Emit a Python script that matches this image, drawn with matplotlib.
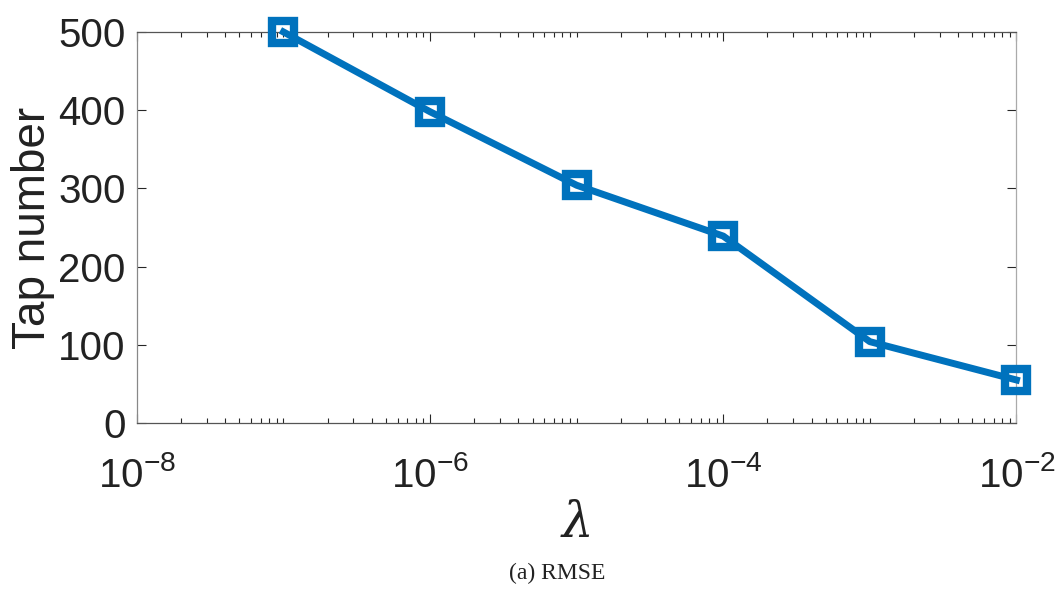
import matplotlib
matplotlib.use("Agg")
import matplotlib.pyplot as plt
import numpy as np
from matplotlib.ticker import LogLocator, NullFormatter, FixedLocator

plt.rcParams['font.family'] = ['Liberation Sans', 'DejaVu Sans']
plt.rcParams['mathtext.fontset'] = 'custom'
plt.rcParams['mathtext.rm'] = 'Liberation Sans'
plt.rcParams['mathtext.it'] = 'Liberation Sans:italic'

lambdas = [1e-7, 1e-6, 1e-5, 1e-4, 1e-3, 1e-2]
tap_number = [500, 398, 304, 239, 104, 55]
xtick_vals = [1e-8, 1e-6, 1e-4, 1e-2]
ytick_vals = [0, 100, 200, 300, 400, 500]

fig = plt.figure(figsize=(10.61, 5.92), dpi=100)
ax = fig.add_axes([0.129, 0.2855, 0.829, 0.6605])
ax.plot(lambdas, tap_number, color='#0072BD', lw=5, marker='s', ms=16.5,
        mfc='none', mec='#0072BD', mew=6, clip_on=False, zorder=5)
ax.set_xscale('log')
ax.set_xlim(1e-8, 1e-2)
ax.set_ylim(0, 500)
ax.xaxis.set_major_locator(FixedLocator(xtick_vals))
ax.xaxis.set_minor_locator(LogLocator(base=10, subs=np.arange(1, 10), numticks=50))
ax.xaxis.set_minor_formatter(NullFormatter())
ax.set_xticks(xtick_vals)
ax.set_xticklabels([r'$10^{%d}$' % int(np.log10(v)) for v in xtick_vals])
ax.set_yticks(ytick_vals)
for s in ax.spines.values():
    s.set_color('#555555')
    s.set_linewidth(0.9)
ax.spines['left'].set_color('#888888')
ax.spines['right'].set_color('#aaaaaa')
ax.tick_params(which='both', direction='in', top=True, right=True, colors='#262626',
               labelsize=29, width=0.8, labelcolor='#222222')
ax.tick_params(which='major', length=6.5)
ax.tick_params(which='minor', length=3.5)
ax.tick_params(axis='y', which='major', pad=8)
ax.tick_params(axis='x', which='major', pad=24)
ax.set_ylabel('Tap number', fontsize=33, color='#222222', labelpad=2)
fig.text(0.5423, 0.093, r'$\lambda$', ha='center', va='baseline', fontsize=36,
         color='#222222', math_fontfamily='dejavuserif')
fig.text(0.525, 0.031, '(a) RMSE', ha='center', va='center', fontsize=17,
         fontfamily='Liberation Serif', color='#222222')
fig.savefig('out.png', dpi=100)
